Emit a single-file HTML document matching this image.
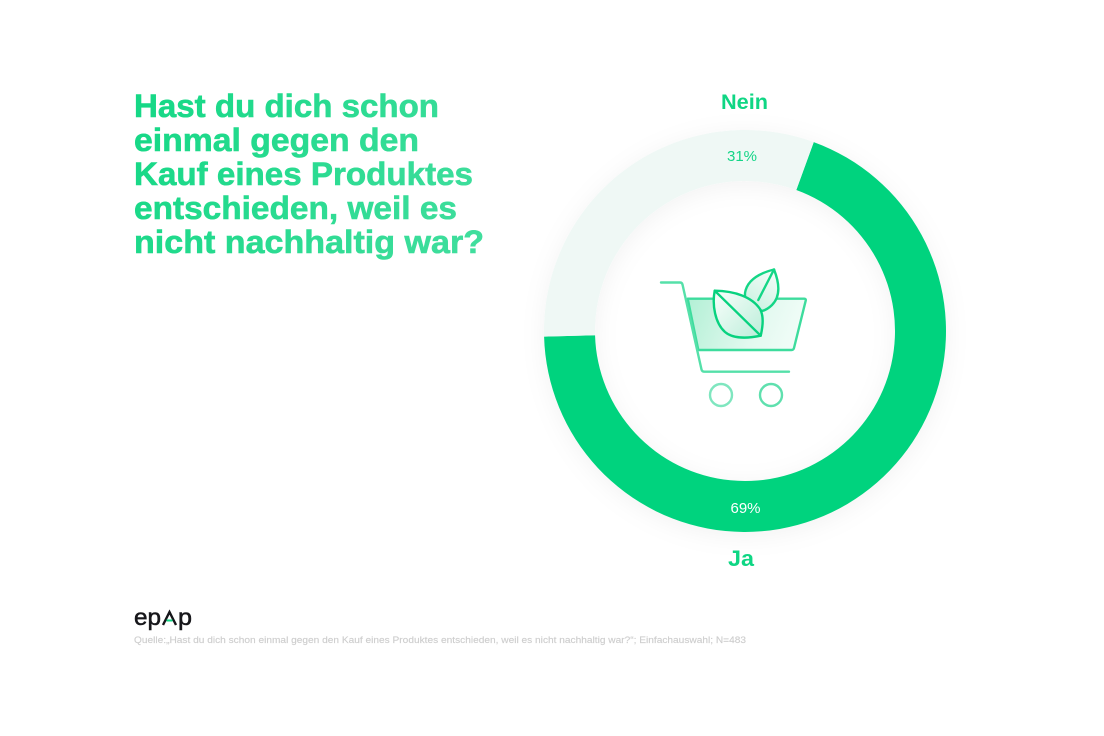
<!DOCTYPE html>
<html lang="de">
<head>
<meta charset="utf-8">
<title>Nachhaltigkeit Umfrage</title>
<style>
html,body{margin:0;padding:0;background:#fff;}
body{width:1104px;height:736px;overflow:hidden;font-family:"Liberation Sans",sans-serif;}
svg{display:block;}
text{font-family:"Liberation Sans",sans-serif;}
</style>
</head>
<body>
<svg id="chart" width="1104" height="736" viewBox="0 0 1104 736" xmlns="http://www.w3.org/2000/svg">
  <defs>
    <linearGradient id="titleGrad" gradientUnits="userSpaceOnUse" x1="134" y1="90" x2="484" y2="260">
      <stop offset="0" stop-color="#14d885"/><stop offset="1" stop-color="#42de9e"/>
    </linearGradient>
    <linearGradient id="basketGrad" gradientUnits="userSpaceOnUse" x1="690" y1="300" x2="800" y2="345">
      <stop offset="0" stop-color="#b4f0d6"/><stop offset="0.6" stop-color="#e2f9ef"/><stop offset="1" stop-color="#f3fdf9"/>
    </linearGradient>
    <linearGradient id="leafGrad" gradientUnits="userSpaceOnUse" x1="718" y1="295" x2="762" y2="335">
      <stop offset="0" stop-color="#f4fdf9"/><stop offset="1" stop-color="#bdeeda"/>
    </linearGradient>
    <linearGradient id="leafGrad2" gradientUnits="userSpaceOnUse" x1="775" y1="272" x2="750" y2="310">
      <stop offset="0" stop-color="#f4fdf9"/><stop offset="1" stop-color="#c8f1e0"/>
    </linearGradient>
    <filter id="ringShadow" x="-20%" y="-20%" width="140%" height="140%">
      <feDropShadow dx="0" dy="4" stdDeviation="12" flood-color="#000" flood-opacity="0.05"/>
    </filter>
  </defs>

  <g fill="url(#titleGrad)" stroke="url(#titleGrad)" stroke-width="0.6" font-weight="700" font-size="32">
    <text x="134" y="117" textLength="305" lengthAdjust="spacingAndGlyphs">Hast du dich schon</text>
    <text x="134" y="151" textLength="285" lengthAdjust="spacingAndGlyphs">einmal gegen den</text>
    <text x="134" y="185" textLength="339" lengthAdjust="spacingAndGlyphs">Kauf eines Produktes</text>
    <text x="134" y="219" textLength="323" lengthAdjust="spacingAndGlyphs">entschieden, weil es</text>
    <text x="134" y="253" textLength="350" lengthAdjust="spacingAndGlyphs">nicht nachhaltig war?</text>
  </g>

  <g id="ring" filter="url(#ringShadow)"></g>

  <text id="label-nein" x="744.5" y="109" text-anchor="middle" font-size="21" font-weight="700" fill="#0fd684" textLength="47" lengthAdjust="spacingAndGlyphs"></text>
  <text id="value-nein" x="742" y="161" text-anchor="middle" font-size="15" fill="#14d587"></text>
  <text id="value-ja" x="745.5" y="513" text-anchor="middle" font-size="15" fill="#ffffff"></text>
  <text id="label-ja" x="741" y="566" text-anchor="middle" font-size="22" font-weight="700" fill="#0fd684" textLength="26" lengthAdjust="spacingAndGlyphs"></text>

  <g fill="none" stroke-linecap="round" stroke-linejoin="round" stroke-width="2.4">
    <path d="M687.7 298.7H804.2Q806.2 298.7 805.7 300.7L794 348Q793.5 350 791.5 350H698.3Z" fill="url(#basketGrad)" stroke="#3ddc9d"/>
    <path d="M661 282.5H680Q682 282.5 682.5 284.5L701.5 369.5Q702 371.7 704.5 371.7H789" stroke="#55e0a9"/>
    <circle cx="721" cy="395" r="11" stroke="#7fe6bf"/>
    <circle cx="771" cy="395" r="11" stroke="#5fe0ae"/>
    <path d="M745 293C747 280 760 273 774 269.5C779 282 781 296 772 305C769 308 766 310 762 311L745 300Z" fill="url(#leafGrad2)" stroke="#14d686"/>
    <path d="M774 269.5L758.3 300" stroke="#14d686"/>
    <path d="M714.7 290.7C735 291 752 297 760 309C764 316 763 326 760.7 335.7C745 339 732 338 725 332C715 323 712 305 714.7 290.7Z" fill="url(#leafGrad)" stroke="#08d27f"/>
    <path d="M714.7 290.7L760.7 335.7" stroke="#08d27f"/>
  </g>

  <g>
    <text x="134" y="625" font-size="23" fill="#16161a" stroke="#16161a" stroke-width="0.5" textLength="27" lengthAdjust="spacingAndGlyphs">ep</text>
    <path d="M163 625L169.5 612L176 625" fill="none" stroke="#16161a" stroke-width="2.4"/>
    <path d="M166.5 620.5H172.5" fill="none" stroke="#0fd684" stroke-width="2"/>
    <text x="178" y="625" font-size="23" fill="#16161a" stroke="#16161a" stroke-width="0.5" textLength="14" lengthAdjust="spacingAndGlyphs">p</text>
  </g>

  <text x="134" y="643" font-size="9.5" fill="#cecece" stroke="#cecece" stroke-width="0.15" textLength="612" lengthAdjust="spacingAndGlyphs">Quelle:„Hast du dich schon einmal gegen den Kauf eines Produktes entschieden, weil es nicht nachhaltig war?“; Einfachauswahl; N=483</text>
</svg>

<script>
const categories = ['Ja', 'Nein'];
const seriesValues = [69, 31];
const sliceColors = ['#00d37e', '#eff8f5'];

const cx = 745, cy = 331, outerR = 201, innerR = 150, startDeg = 20;
const ns = 'http://www.w3.org/2000/svg';
const ring = document.getElementById('ring');
const total = seriesValues.reduce(function (a, b) { return a + b; }, 0);

function angleFor(value) { return value / total * 360; }
function pointAt(radius, deg) {
  const r = (deg - 90) * Math.PI / 180;
  return [cx + radius * Math.cos(r), cy + radius * Math.sin(r)];
}
function slicePath(a0, a1) {
  const large = a1 - a0 > 180 ? 1 : 0;
  const p0 = pointAt(outerR, a0), p1 = pointAt(outerR, a1);
  const p2 = pointAt(innerR, a1), p3 = pointAt(innerR, a0);
  return 'M' + p0[0] + ' ' + p0[1] +
    'A' + outerR + ' ' + outerR + ' 0 ' + large + ' 1 ' + p1[0] + ' ' + p1[1] +
    'L' + p2[0] + ' ' + p2[1] +
    'A' + innerR + ' ' + innerR + ' 0 ' + large + ' 0 ' + p3[0] + ' ' + p3[1] + 'Z';
}

let cursor = startDeg;
seriesValues.forEach(function (v, i) {
  const sweep = angleFor(v);
  const el = document.createElementNS(ns, 'path');
  el.setAttribute('d', slicePath(cursor, cursor + sweep));
  el.setAttribute('fill', sliceColors[i]);
  
  
  ring.appendChild(el);
  cursor += sweep;
});

document.getElementById('label-ja').textContent = categories[0];
document.getElementById('label-nein').textContent = categories[1];
document.getElementById('value-ja').textContent = seriesValues[0] + '%';
document.getElementById('value-nein').textContent = seriesValues[1] + '%';
</script>
</body>
</html>
